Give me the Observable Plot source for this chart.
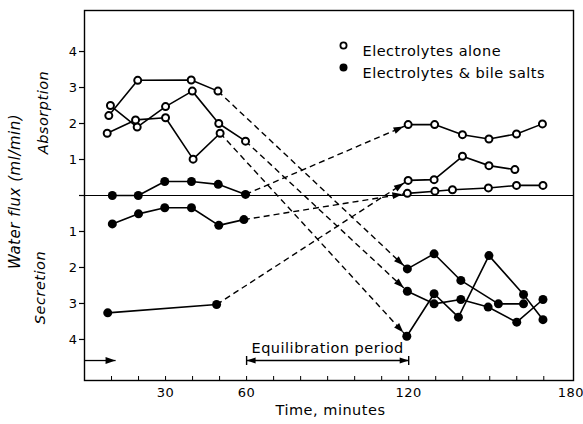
<!DOCTYPE html>
<html><head><meta charset="utf-8">
<script src="https://cdn.jsdelivr.net/npm/d3@7"></script>
<script src="https://cdn.jsdelivr.net/npm/@observablehq/plot@0.6"></script>
<style>
body{margin:0;background:#fff}
#chart svg{font-family:"DejaVu Sans",sans-serif;letter-spacing:0.5px}
</style></head><body><div id="chart"></div>
<script>
// Water flux (ml/min): positive = absorption, negative = secretion
// Electrolytes alone, first period
const aloneFirstA = [[9.6,2.5],[19.5,1.9],[30,2.47],[39.9,2.9],[49.7,2.0],[59.6,1.51]];
const aloneFirstB = [[8.4,1.73],[18.9,2.1],[30,2.16],[40.2,1.01],[50.2,1.73]];
const aloneFirstC = [[9,2.22],[19.7,3.2],[39.5,3.21],[49.4,2.9]];
// Electrolytes & bile salts, first period
const bileFirstA = [[10.3,0],[19.9,0],[29.7,0.39],[39.6,0.39],[49.5,0.31],[59.6,0.03]];
const bileFirstB = [[10.3,-0.79],[20,-0.51],[29.7,-0.34],[39.6,-0.34],[49.7,-0.83],[59,-0.67]];
const bileFirstC = [[8.6,-3.26],[48.9,-3.03]];
// Electrolytes alone, second period
const aloneSecondA = [[119.8,1.97],[129.6,1.97],[139.9,1.69],[149.7,1.57],[159.9,1.71],[169.5,1.99]];
const aloneSecondB = [[119.8,0.42],[129.4,0.44],[139.9,1.09],[149.7,0.83],[159.3,0.72]];
const aloneSecondC = [[119.5,0.06],[129.7,0.12],[136.2,0.16],[149.5,0.21],[159.9,0.28],[169.7,0.28]];
// Electrolytes & bile salts, second period
const bileSecondA = [[119.5,-2.04],[129.4,-1.62],[139.3,-2.36],[153.2,-3.01],[162.5,-3.01]];
const bileSecondB = [[119.5,-2.66],[129.4,-3.01],[139.3,-2.89],[149.4,-3.10],[160,-3.52],[169.7,-2.89]];
const bileSecondC = [[119.3,-3.91],[129.4,-2.73],[138.4,-3.38],[149.7,-1.67],[162.5,-2.75],[169.7,-3.45]];

// crossover: last point of first period -> first point of second period
const crossovers = [
  ["aloneFirstC","bileSecondA"],["aloneFirstB","bileSecondC"],["aloneFirstA","bileSecondB"],
  ["bileFirstA","aloneSecondA"],["bileFirstB","aloneSecondC"],["bileFirstC","aloneSecondB"]
];
const equilibration = [60, 120];
const leadIn = [0, 11.5];
const xTickLabels = [30, 60, 120, 180];
const xMinorTicks = [10,20,30,40,50,60,70,80,90,100,110,120,130,140,150,160,170];
const yTicks = [-4,-3,-2,-1,0,1,2,3,4];
const legendLabels = ["Electrolytes alone", "Electrolytes & bile salts"];
const yLabel = "Water flux (ml/min)";
const upLabel = "Absorption", downLabel = "Secretion";
const xLabel = "Time, minutes";
const periodLabel = "Equilibration period";

const seriesList = [
  ["aloneFirstA","alone",aloneFirstA],["aloneFirstB","alone",aloneFirstB],["aloneFirstC","alone",aloneFirstC],
  ["bileFirstA","bile",bileFirstA],["bileFirstB","bile",bileFirstB],["bileFirstC","bile",bileFirstC],
  ["aloneSecondA","alone",aloneSecondA],["aloneSecondB","alone",aloneSecondB],["aloneSecondC","alone",aloneSecondC],
  ["bileSecondA","bile",bileSecondA],["bileSecondB","bile",bileSecondB],["bileSecondC","bile",bileSecondC]
];
const rows = seriesList.flatMap(([name, kind, pts]) => pts.map(([t, v]) => ({name, kind, t, v})));
const bySeries = Object.fromEntries(seriesList.map(([n, , p]) => [n, p]));
const links = crossovers.map(([a, b]) => {
  const p = bySeries[a][bySeries[a].length - 1], q = bySeries[b][0];
  return {x1: p[0], y1: p[1], x2: q[0], y2: q[1]};
});

function headMarker(offset) {
  return (color) => {
    const m = d3.create("svg:marker")
      .attr("viewBox", "-14 -7 24 14").attr("markerWidth", 24).attr("markerHeight", 14)
      .attr("markerUnits", "userSpaceOnUse").attr("orient", "auto")
      .attr("refX", offset).attr("refY", 0).attr("overflow", "visible");
    m.append("path").attr("d", "M-10,-3.4L0,0L-10,3.4Z").attr("fill", color).attr("stroke", "none");
    return m.node();
  };
}
function barMarker(color) {
  const m = d3.create("svg:marker")
    .attr("viewBox", "-14 -7 24 14").attr("markerWidth", 24).attr("markerHeight", 14)
    .attr("markerUnits", "userSpaceOnUse").attr("orient", "auto-start-reverse")
    .attr("refX", 0).attr("refY", 0).attr("overflow", "visible");
  m.append("path").attr("d", "M-9,-3L0,0L-9,3Z").attr("fill", color).attr("stroke", "none");
  m.append("path").attr("d", "M0,-4.5V4.5").attr("fill", "none").attr("stroke", color).attr("stroke-width", 1.4).attr("stroke-dasharray", "none");
  return m.node();
}
const annY = -4.585;

const chart = Plot.plot({
  width: 583, height: 424,
  marginLeft: 84, marginRight: 10, marginTop: 10, marginBottom: 44,
  style: {fontFamily: "DejaVu Sans, sans-serif", fontSize: "13px", color: "black", background: "white", overflow: "visible"},
  x: {domain: [0, 181]},
  y: {domain: [-5.14, 5.14]},
  marks: [
    Plot.frame({stroke: "black", strokeWidth: 1.4}),
    Plot.ruleY([0], {stroke: "black", strokeWidth: 1.2}),
    Plot.tickX(xMinorTicks, {x: d => d, insetTop: 366, stroke: "black", strokeWidth: 1}),
    Plot.axisX({ticks: xTickLabels, tickSize: 0, tickPadding: 7, label: null, fontSize: 13}),
    Plot.axisY({ticks: yTicks, tickFormat: d => d === 0 ? "" : String(Math.abs(d)), tickSize: 5, tickPadding: 2, label: null, fontSize: 13, strokeWidth: 1.2}),
    Plot.link(links, {x1: "x1", y1: "y1", x2: "x2", y2: "y2", stroke: "black", strokeWidth: 1.4, strokeDasharray: "6,4", markerEnd: headMarker(5)}),
    Plot.line(rows, {x: "t", y: "v", z: "name", stroke: "black", strokeWidth: 1.6}),
    Plot.dot(rows.filter(d => d.kind === "alone"), {x: "t", y: "v", r: 3.5, fill: "white", stroke: "black", strokeWidth: 2}),
    Plot.dot(rows.filter(d => d.kind === "bile"), {x: "t", y: "v", r: 4.5, fill: "black", stroke: "none"}),
    // legend
    Plot.dot([legendLabels[0]], {frameAnchor: "top-left", dx: 259, dy: 35, r: 3.1, fill: "white", stroke: "black", strokeWidth: 1.8}),
    Plot.dot([legendLabels[1]], {frameAnchor: "top-left", dx: 259, dy: 57, r: 4, fill: "black"}),
    Plot.text([legendLabels[0]], {frameAnchor: "top-left", dx: 278, dy: 35, text: d => d, textAnchor: "start", fontSize: 14.5}),
    Plot.text([legendLabels[1]], {frameAnchor: "top-left", dx: 278, dy: 57, text: d => d, textAnchor: "start", fontSize: 14.5}),
    // annotations
    Plot.link([equilibration], {x1: d => d[0], x2: d => d[1], y1: annY, y2: annY, stroke: "black", strokeWidth: 1.3, markerStart: barMarker, markerEnd: barMarker}),
    Plot.text([periodLabel], {x: d3.mean(equilibration), y: annY, dy: -12.6, text: d => d, fontSize: 14.5}),
    Plot.link([leadIn], {x1: d => d[0], x2: d => d[1], y1: annY, y2: annY, stroke: "black", strokeWidth: 1.3, markerEnd: headMarker(0)}),
    Plot.text([xLabel], {frameAnchor: "bottom", dx: 1.5, dy: 34, text: d => d, fontSize: 14.5}),
    Plot.text([yLabel], {frameAnchor: "left", textAnchor: "middle", dx: -69, dy: -4, rotate: -90, text: d => d, fontSize: 15, fontStyle: "italic"}),
    Plot.text([upLabel], {frameAnchor: "left", textAnchor: "middle", dx: -41, dy: -83, rotate: -90, text: d => d, fontSize: 14.5, fontStyle: "italic"}),
    Plot.text([downLabel], {frameAnchor: "left", textAnchor: "middle", dx: -44, dy: 92, rotate: -90, text: d => d, fontSize: 14.5, fontStyle: "italic"})
  ]
});
document.getElementById("chart").append(chart);
</script></body></html>
